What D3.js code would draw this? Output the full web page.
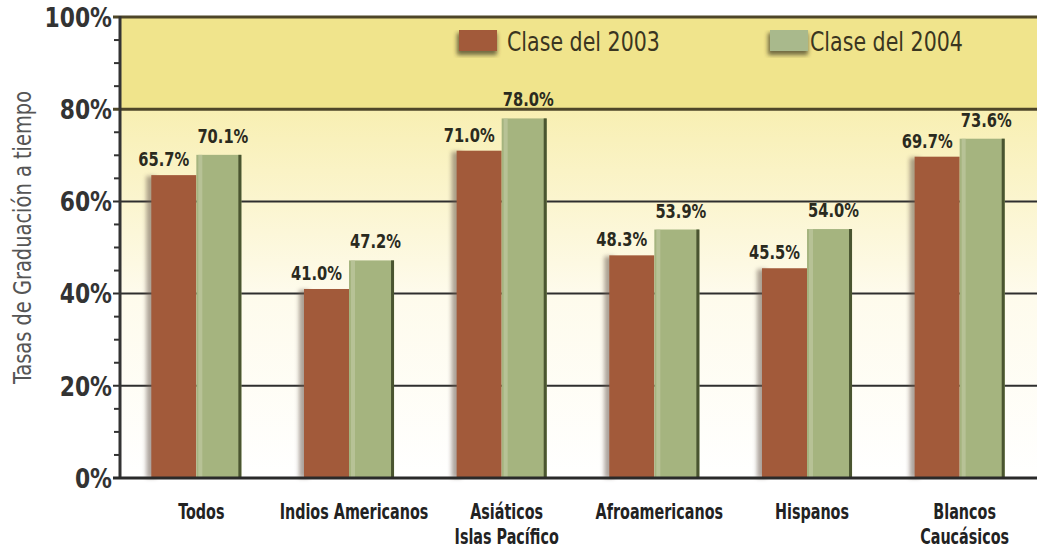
<!DOCTYPE html>
<html><head><meta charset="utf-8">
<script src="https://cdn.jsdelivr.net/npm/d3@7"></script>
<style>
html,body{margin:0;padding:0;background:#fff;}
svg{display:block;}
text{font-family:"DejaVu Sans Condensed","DejaVu Sans",sans-serif;}
</style></head>
<body>
<svg id="chart" width="1037" height="552"></svg>
<script>
const categories = [["Todos"],["Indios Americanos"],["Asiáticos","Islas Pacífico"],["Afroamericanos"],["Hispanos"],["Blancos","Caucásicos"]];
const clase2003 = [65.7, 41.0, 71.0, 48.3, 45.5, 69.7];
const clase2004 = [70.1, 47.2, 78.0, 53.9, 54.0, 73.6];
const seriesNames = ["Clase del 2003", "Clase del 2004"];
const yTicks = [0, 20, 40, 60, 80, 100];
const yTitle = "Tasas de Graduación a tiempo";

const W = 1037, H = 552;
const mLeft = 120, mRight = 1036, mTop = 17, mBottom = 478;
const svg = d3.select("#chart");
const defs = svg.append("defs");

const grad = defs.append("linearGradient").attr("id","bg").attr("x1",0).attr("y1",0).attr("x2",0).attr("y2",1);
grad.append("stop").attr("offset","0").attr("stop-color","#f8efb2");
grad.append("stop").attr("offset","0.5").attr("stop-color","#fefbec");
grad.append("stop").attr("offset","1").attr("stop-color","#ffffff");
defs.append("filter").attr("id","blur").attr("x","-50%").attr("y","-10%").attr("width","200%").attr("height","120%")
  .append("feGaussianBlur").attr("stdDeviation",2.2);

const y = d3.scaleLinear().domain([0,100]).range([mBottom, mTop]);
const x = d3.scaleBand().domain(d3.range(categories.length)).range([mLeft, mRight]).paddingInner(0.41).paddingOuter(0.205);
const x1 = d3.scaleBand().domain([0,1]).range([0, x.bandwidth()]);
const tr = (px, py, k) => `translate(${px},${py}) scale(${k},1)`;

// backgrounds
svg.append("rect").attr("x",mLeft).attr("y",y(100)).attr("width",W-mLeft).attr("height",y(80)-y(100)).attr("fill","#f0e48c");
svg.append("rect").attr("x",mLeft).attr("y",y(80)).attr("width",W-mLeft).attr("height",y(0)-y(80)).attr("fill","url(#bg)");

// gridlines
svg.append("g").selectAll("line").data(yTicks.filter(t=>t>0)).join("line")
  .attr("x1",mLeft-7).attr("x2",W).attr("y1",d=>y(d)).attr("y2",d=>y(d))
  .attr("stroke",d=>d>=80?"#4e4628":"#2e2e2e").attr("stroke-width",d=>d>=80?3:2);

// minor ticks
svg.append("g").selectAll("line").data(d3.range(5,100,5).filter(v=>v%20!==0)).join("line")
  .attr("x1",mLeft-6).attr("x2",mLeft).attr("y1",d=>y(d)).attr("y2",d=>y(d))
  .attr("stroke","#333").attr("stroke-width",2);

// bars
const g = svg.append("g").selectAll("g").data(categories.map((c,i)=>i)).join("g")
  .attr("transform",i=>`translate(${x(i)},0)`);
g.append("rect").attr("x",x1(0)-5).attr("y",i=>y(clase2003[i])+1).attr("width",10)
  .attr("height",i=>y(0)-y(clase2003[i])-1).attr("fill","#6b5a50").attr("opacity",0.55).attr("filter","url(#blur)");
g.append("rect").attr("x",x1(0)).attr("y",i=>y(clase2003[i])).attr("width",x1.bandwidth())
  .attr("height",i=>y(0)-y(clase2003[i])).attr("fill","#a25a3a");
g.append("rect").attr("x",x1(1)).attr("y",i=>y(clase2004[i])).attr("width",x1.bandwidth())
  .attr("height",i=>y(0)-y(clase2004[i])).attr("fill","#a5b47f");
g.append("rect").attr("x",x1(1)+2).attr("y",i=>y(clase2004[i])).attr("width",4)
  .attr("height",i=>y(0)-y(clase2004[i])).attr("fill","#bfc8a0").attr("opacity",0.7);
g.append("rect").attr("x",x1(1)+x1.bandwidth()-3).attr("y",i=>y(clase2004[i])).attr("width",3)
  .attr("height",i=>y(0)-y(clase2004[i])).attr("fill","#4a5530");

// value labels
g.append("text").attr("transform",i=>tr(x1(0)+x1.bandwidth()/2-10, y(clase2003[i])-9, 0.86))
  .attr("text-anchor","middle").attr("font-size",19).attr("font-weight","bold").attr("fill","#2a2a1e")
  .text(i=>clase2003[i].toFixed(1)+"%");
g.append("text").attr("transform",i=>tr(x1(1)+x1.bandwidth()/2+4, y(clase2004[i])-12, 0.86))
  .attr("text-anchor","middle").attr("font-size",19).attr("font-weight","bold").attr("fill","#2a2a1e")
  .text(i=>clase2004[i].toFixed(1)+"%");

// axes lines
svg.append("line").attr("x1",mLeft).attr("x2",mLeft).attr("y1",y(100)-1).attr("y2",y(0)+1).attr("stroke","#333").attr("stroke-width",3);
svg.append("line").attr("x1",mLeft-7).attr("x2",W).attr("y1",y(0)).attr("y2",y(0)).attr("stroke","#2a2a2a").attr("stroke-width",3);

// y tick labels
svg.append("g").selectAll("text").data(yTicks).join("text")
  .attr("transform",d=>tr(mLeft-8, y(d), 0.9)).attr("dy","0.36em").attr("text-anchor","end")
  .attr("font-size",27).attr("font-weight","bold").attr("fill","#333")
  .text(d=>d+"%");

// y title
svg.append("text").attr("transform",`translate(31,${(y(0)+y(100))/2-10}) rotate(-90) scale(0.9,1)`)
  .attr("text-anchor","middle").attr("font-size",24).attr("fill","#555").text(yTitle);

// x labels
const xl = svg.append("g").selectAll("text").data(categories.map((c,i)=>i)).join("text")
  .attr("transform",i=>tr(x(i)+x.bandwidth()/2+5, 519, 0.76)).attr("text-anchor","middle")
  .attr("font-size",21).attr("font-weight","bold").attr("fill","#222");
xl.selectAll("tspan").data(i=>categories[i]).join("tspan")
  .attr("x",0).attr("dy",(d,k)=>k===0?0:25).text(d=>d);

// legend
const legX = [459, 770];
const leg = svg.append("g").selectAll("g").data(seriesNames.map((s,i)=>i)).join("g")
  .attr("transform",i=>`translate(${legX[i]},30)`);
leg.append("rect").attr("x",-2).attr("y",3).attr("width",40).attr("height",22).attr("fill","#3a3520").attr("opacity",0.7).attr("filter","url(#blur)");
leg.append("rect").attr("x",0).attr("y",0).attr("width",38).attr("height",21).attr("fill",i=>i===0?"#a25a3a":"#a9b98c");
leg.append("text").attr("transform",i=>tr(i===0?48:40, 12, 0.88)).attr("dy","0.36em")
  .attr("font-size",26).attr("fill","#3a3520").text(i=>seriesNames[i]);
</script>
</body></html>
